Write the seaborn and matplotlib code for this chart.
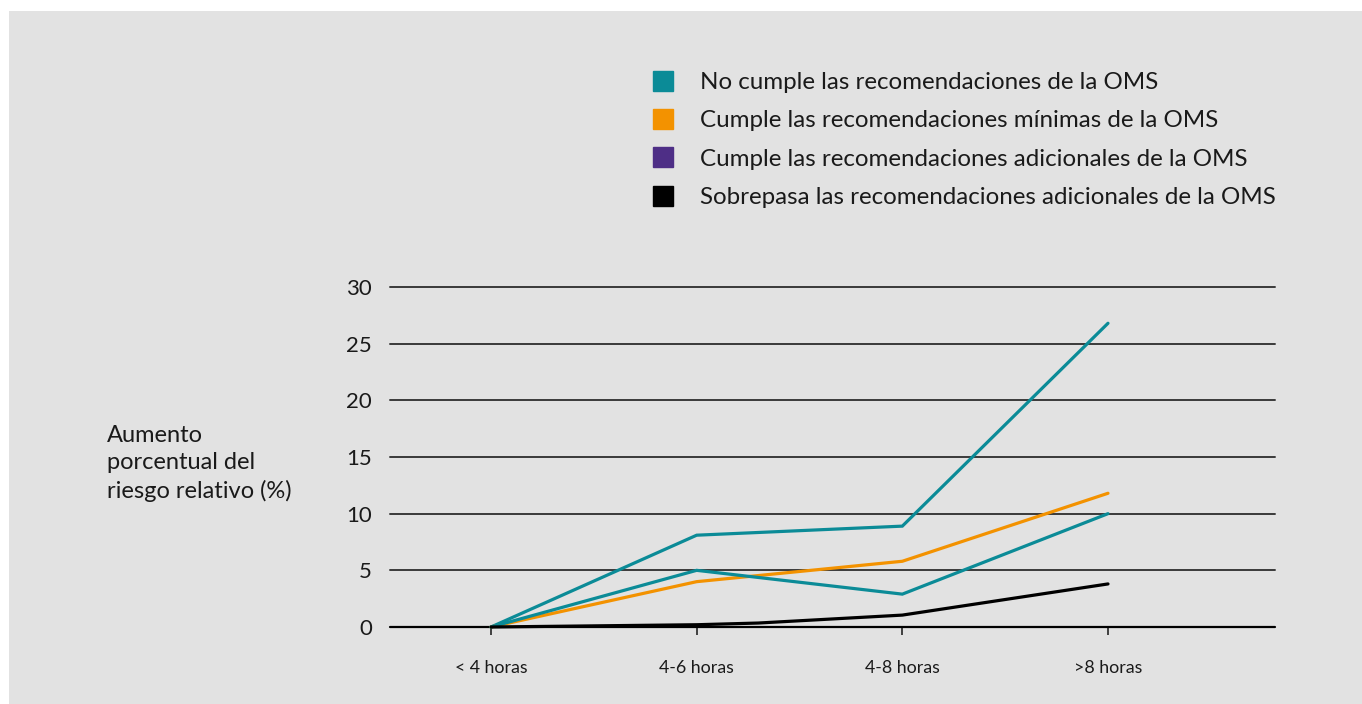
import matplotlib
matplotlib.use("Agg")
import matplotlib.pyplot as plt
from matplotlib.lines import Line2D
from matplotlib.patches import Rectangle
import seaborn as sns
import pandas as pd

# Categories on the x axis
categorias = ["< 4 horas", "4-6 horas", "4-8 horas", ">8 horas"]
pos_cat = [0, 1, 2, 3]

# Series names (legend order)
series = [
    "No cumple las recomendaciones de la OMS",
    "Cumple las recomendaciones mínimas de la OMS",
    "Cumple las recomendaciones adicionales de la OMS",
    "Sobrepasa las recomendaciones adicionales de la OMS",
]

# Values (% increase in relative risk)
no_cumple_x = [0, 1, 2, 3]
no_cumple = [0, 8.1, 8.9, 26.8]
minimas_x = [0, 1, 2, 3]
minimas = [0, 4.0, 5.8, 11.8]
adicionales_x = [0, 1, 2, 3]
adicionales = [0, 5.0, 2.9, 10.0]
sobrepasa_x = [0, 1, 1.3, 2, 3]
sobrepasa = [0, 0.2, 0.35, 1.05, 3.8]

yticks = [0, 5, 10, 15, 20, 25, 30]

legend_colors = ["#0b8b97", "#f39200", "#4e2e86", "#000000"]
line_colors = {series[0]: "#0b8b97", series[1]: "#f39200",
               series[2]: "#0b8b97", series[3]: "#000000"}

df = pd.concat([
    pd.DataFrame({"x": no_cumple_x, "y": no_cumple, "serie": series[0]}),
    pd.DataFrame({"x": minimas_x, "y": minimas, "serie": series[1]}),
    pd.DataFrame({"x": adicionales_x, "y": adicionales, "serie": series[2]}),
    pd.DataFrame({"x": sobrepasa_x, "y": sobrepasa, "serie": series[3]}),
], ignore_index=True)

sns.set_theme(style="white")
plt.rcParams["font.family"] = ["Lato", "DejaVu Sans"]

BG = "#e2e2e2"
fig = plt.figure(figsize=(13.62, 7.04), dpi=100)
fig.patch.set_facecolor("white")
fig.add_artist(Rectangle((9 / 1362, 0), 1 - 9 / 1362, 1 - 11 / 704,
                         transform=fig.transFigure, facecolor=BG,
                         edgecolor="none", zorder=-10))

W, H = 1362, 704
left, right = 390 / W, 1275 / W
bottom, top = (H - 627) / H, (H - 287) / H
ax = fig.add_axes([left, bottom, right - left, top - bottom])
ax.set_facecolor("none")

# horizontal gridlines
for v in yticks:
    ax.axhline(v, color="#000000" if v == 0 else "#3a3a3a",
               lw=1.6 if v == 0 else 1.4, zorder=1)

sns.lineplot(data=df, x="x", y="y", hue="serie", units="serie",
             estimator=None, palette=line_colors, lw=2.3, ax=ax,
             legend=False, zorder=3, sort=True)
for ln in ax.lines:
    ln.set_clip_on(False)
    ln.set_solid_joinstyle("miter")

ax.set_xlim(-0.491, 3.812)
ax.set_ylim(0, 30)
for s in ax.spines.values():
    s.set_visible(False)

ax.set_xticks(pos_cat)
ax.set_xticklabels(categorias, fontsize=12.8, color="#1a1a1a")
ax.set_yticks(yticks)
ax.set_yticklabels([str(v) for v in yticks], fontsize=16, color="#1a1a1a")
ax.tick_params(axis="x", direction="out", length=6, width=1.3,
               color="#333333", pad=17.5, bottom=True)
ax.tick_params(axis="y", length=0, pad=13)
ax.set_xlabel("")
ax.set_ylabel("")

fig.text(107 / W, 1 - 425 / H, "Aumento\nporcentual del\nriesgo relativo (%)",
         ha="left", va="top", fontsize=17, color="#1a1a1a", linespacing=1.37)

handles = [Line2D([], [], marker="s", linestyle="none", markersize=14,
                  markerfacecolor=c, markeredgecolor=c) for c in legend_colors]
leg = fig.legend(handles, series, loc="upper left",
                 bbox_to_anchor=(636 / W, 1 - 60 / H), frameon=False,
                 fontsize=17.4, handletextpad=0.95, labelspacing=0.72,
                 handlelength=1.2, borderpad=0)
for t in leg.get_texts():
    t.set_color("#1a1a1a")

fig.savefig("out.png", dpi=100, facecolor=fig.get_facecolor())
